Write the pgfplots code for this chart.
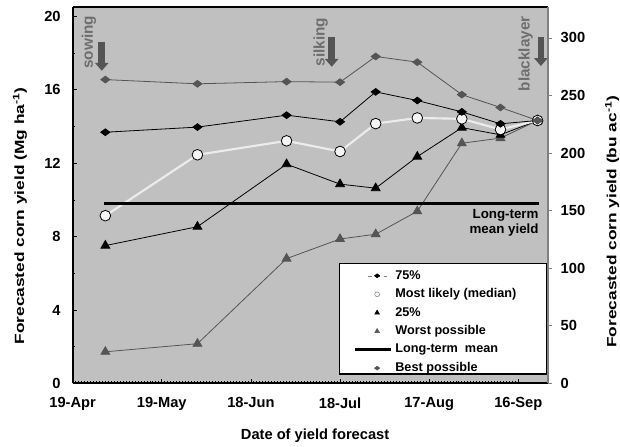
\documentclass[border=0pt]{standalone}
\usepackage{fontspec}
\setmainfont{Liberation Sans}
\newfontfamily\titlefont{Liberation Sans}[FakeStretch=1.3]
\usepackage{pgfplots}
\usepackage{pgfplotstable}
\pgfplotsset{compat=1.18}
\usetikzlibrary{arrows.meta}
\definecolor{bg}{RGB}{192,192,192}
\definecolor{dg}{RGB}{85,85,85}
\definecolor{med}{RGB}{236,236,236}
\definecolor{ann}{RGB}{110,110,110}

\pgfplotstableread{
x best p75 med p25 worst
11 16.56 13.69 9.14 7.51 1.72
42 16.33 13.97 12.46 8.54 2.16
72 16.45 14.62 13.22 11.95 6.80
90 16.42 14.26 12.64 10.86 7.87
102 17.82 15.89 14.16 10.64 8.13
116 17.51 15.42 14.47 12.36 9.38
131 15.74 14.80 14.42 13.94 13.09
144 15.04 14.15 13.84 13.55 13.37
156.5 14.33 14.33 14.33 14.33 14.33
}\data

\pgfplotsset{
  markleg/.style={legend image code/.code={\draw[##1] plot coordinates {(16.5pt,0pt)};}},
  lineleg/.style={legend image code/.code={\draw[##1] (0pt,0pt) -- (27pt,0pt);}},
}

\begin{document}
\begin{tikzpicture}
\useasboundingbox (0,0) rectangle (465pt,334.5pt);
\begin{axis}[
  at={(54.5pt,47pt)}, anchor=south west, scale only axis,
  width=356.5pt, height=282pt,
  xmin=0, xmax=160, ymin=0, ymax=20.5,
  axis background/.style={fill=bg},
  axis x line*=box, axis y line*=left,
  xtick pos=bottom, ytick pos=left, tick align=inside,
  xtick={0,30,60,90,120,150},
  xticklabels={19-Apr,19-May,18-Jun,18-Jul,17-Aug,16-Sep},
  minor x tick num=29,
  ytick={0,4,...,20}, minor ytick={2,6,...,18},
  major tick length=3.5pt, minor tick length=1.8pt,
  every tick/.style={black, line width=0.6pt},
  axis line style={line width=1.4pt},
  /pgf/number format/assume math mode=true,
  xticklabel style={font=\fontsize{11}{13}\selectfont\bfseries, yshift=-7pt},
  yticklabel style={font=\fontsize{11}{13}\selectfont\bfseries, xshift=-5.5pt},
  xlabel={Date of yield forecast},
  xlabel style={at={(axis description cs:0.51,-0.14)}, anchor=center, font=\fontsize{11}{13}\selectfont\bfseries},
  ylabel={Forecasted corn yield (Mg ha\textsuperscript{-1})},
  ylabel style={at={(axis description cs:-0.111,0.445)}, anchor=center, font=\titlefont\fontsize{10}{12}\selectfont\bfseries},
  clip=false,
  legend style={at={(axis description cs:0.561,0.319)}, anchor=north west,
    draw=none, fill=none, inner xsep=10.5pt, inner ysep=4.6pt,
    font=\fontsize{9.5}{11}\selectfont\bfseries,
    nodes={inner ysep=0pt, text height=7pt, text depth=2pt}, row sep=4.85pt},
  legend cell align=left,
]
% series
\addplot[dg, line width=0.6pt, mark=triangle*, mark size=3.8pt, mark options={solid, fill=dg, draw=dg}, forget plot] table[x=x,y=worst]{\data};
\addplot[black, line width=0.6pt, mark=triangle*, mark size=3.8pt, mark options={solid, fill=black}, forget plot] table[x=x,y=p25]{\data};
\addplot[med, line width=1.6pt, mark=*, mark size=4pt, mark options={solid, fill=med!60!white, draw=black, line width=0.6pt}, forget plot] table[x=x,y=med]{\data};
\addplot[black, line width=0.6pt, mark=diamond*, mark size=3.4pt, mark options={solid, rotate=90, fill=black}, forget plot] table[x=x,y=p75]{\data};
\addplot[dg, line width=0.6pt, mark=diamond*, mark size=3.4pt, mark options={solid, rotate=90, fill=dg, draw=dg}, forget plot] table[x=x,y=best]{\data};
\addplot[black, line width=2.3pt, forget plot] coordinates {(10.7,9.82) (157,9.82)};

% annotations
\draw[dg, line width=5pt, -{Triangle[width=10pt,length=6pt]}] (axis cs:9.8,18.63) -- (axis cs:9.8,17.04);
\draw[dg, line width=5pt, -{Triangle[width=10pt,length=6pt]}] (axis cs:87.2,18.9) -- (axis cs:87.2,17.26);
\draw[dg, line width=5pt, -{Triangle[width=10pt,length=6pt]}] (axis cs:157.6,18.9) -- (axis cs:157.6,17.3);
\node[rotate=90, text=ann, font=\fontsize{11.5}{12}\selectfont\bfseries, inner sep=0pt] at (axis cs:5.5,18.6) {sowing};
\node[rotate=90, text=ann, font=\fontsize{11.5}{12}\selectfont\bfseries, inner sep=0pt] at (axis cs:83.5,18.6) {silking};
\node[rotate=90, text=ann, font=\fontsize{11.5}{12}\selectfont\bfseries, inner sep=0pt] at (axis cs:152.5,17.97) {blacklayer};
\node[anchor=base east, inner sep=0pt, font=\fontsize{10}{12}\selectfont\bfseries] at (axis cs:156.9,9.01) {Long-term};
\node[anchor=base east, inner sep=0pt, font=\fontsize{10}{12}\selectfont\bfseries] at (axis cs:156.9,8.15) {mean yield};

% legend box
\draw[fill=white, line width=1pt] (axis description cs:0.561,0.025) rectangle (axis description cs:0.998,0.319);

\addlegendimage{black, mark=diamond*, mark size=2pt, mark options={rotate=90, fill=black}, legend image code/.code={\draw[gray, dashed, line width=0.4pt] (10pt,0pt) -- (24pt,0pt); \draw[black, mark=diamond*, mark size=2pt, mark options={rotate=90, fill=black}] plot coordinates {(16.5pt,0pt)};}}
\addlegendentry{75\%}
\addlegendimage{markleg, only marks, mark=*, mark size=1.8pt, mark options={fill=white, draw=gray}}
\addlegendentry{Most likely (median)}
\addlegendimage{markleg, only marks, black, mark=triangle*, mark size=2pt}
\addlegendentry{25\%}
\addlegendimage{markleg, only marks, dg, mark=triangle*, mark size=2pt}
\addlegendentry{Worst possible}
\addlegendimage{lineleg, black, line width=2.3pt}
\addlegendentry{Long-term\ \ mean}
\addlegendimage{markleg, only marks, dg, mark=diamond*, mark size=2pt, mark options={rotate=90}}
\addlegendentry{Best possible}
\end{axis}

\begin{axis}[
  at={(54.5pt,47pt)}, anchor=south west, scale only axis,
  width=356.5pt, height=282pt,
  xmin=0, xmax=160, ymin=0, ymax=326.6,
  axis x line=none, axis y line*=right,
  y axis line style={line width=1.2pt, draw=gray},
  ytick={0,50,...,300}, tick align=outside,
  major tick length=3pt,
  every tick/.style={gray, line width=0.6pt},
  /pgf/number format/assume math mode=true,
  yticklabel style={font=\fontsize{11}{13}\selectfont\bfseries, xshift=3pt},
  ylabel={Forecasted corn yield (bu ac\textsuperscript{-1})},
  ylabel style={at={(axis description cs:1.135,0.43)}, anchor=center, font=\titlefont\fontsize{10}{12}\selectfont\bfseries},
]
\end{axis}
\end{tikzpicture}
\end{document}
